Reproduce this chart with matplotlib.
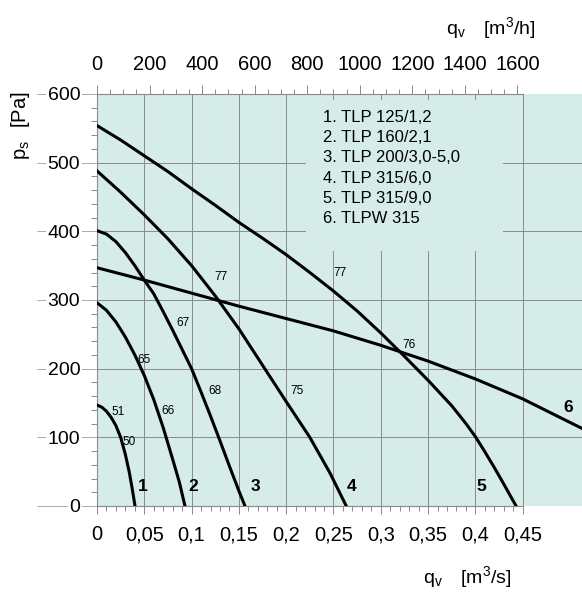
import matplotlib.pyplot as plt
import matplotlib.patches as patches
import numpy as np

plt.rcParams['font.family'] = ['Liberation Sans', 'DejaVu Sans']
plt.rcParams['mathtext.fontset'] = 'custom'
plt.rcParams['mathtext.rm'] = 'Liberation Sans'

# curvas: caudal q [m3/s], presion p [Pa]
q1 = [0.0, 0.005, 0.010, 0.015, 0.020, 0.025, 0.030, 0.034, 0.037, 0.0402]
p1 = [147, 144, 138, 129, 117, 100, 75, 50, 27, 0]

q2 = [0.0, 0.01, 0.02, 0.03, 0.04, 0.05, 0.06, 0.07, 0.08, 0.087, 0.093]
p2 = [296, 285, 268, 246, 220, 190, 155, 114, 68, 35, 0]

q3 = [0.0, 0.01, 0.02, 0.03, 0.04, 0.05, 0.06, 0.07, 0.08, 0.09, 0.10, 0.11, 0.12, 0.13, 0.14, 0.15, 0.1564]
p3 = [401, 396, 385, 369, 350, 329, 309, 283, 256, 228, 200, 166, 131, 95, 58, 22, 0]

q4 = [0.0, 0.025, 0.05, 0.075, 0.10, 0.125, 0.15, 0.175, 0.20, 0.225, 0.2463, 0.2635]
p4 = [488, 457, 424, 389, 350, 306, 258, 205, 152, 100, 48, 0]

q5 = [0.0, 0.025, 0.05, 0.075, 0.10, 0.125, 0.15, 0.175, 0.20, 0.225, 0.25, 0.275,
      0.30, 0.325, 0.35, 0.375, 0.39, 0.40, 0.41, 0.42, 0.43, 0.443]
p5 = [554, 533, 510, 487, 462, 438, 413, 390, 366, 340, 313, 284,
      252, 218, 183, 146, 120, 101, 79, 56, 32, 0]

q6 = [0.0, 0.05, 0.10, 0.15, 0.20, 0.25, 0.30, 0.35, 0.40, 0.45, 0.5127]
p6 = [347, 329, 310, 291, 273, 255, 234, 211, 185, 156, 113]

curvas = [(q1, p1), (q2, p2), (q3, p3), (q4, p4), (q5, p5), (q6, p6)]

leyenda = ['1. TLP 125/1,2', '2. TLP 160/2,1', '3. TLP 200/3,0-5,0',
           '4. TLP 315/6,0', '5. TLP 315/9,0', '6. TLPW 315']

# numeros sobre las curvas
etiquetas = ['51', '50', '65', '66', '67', '68', '77', '75', '77', '76']
etiq_q = [0.0219, 0.0338, 0.050, 0.0747, 0.0912, 0.1247, 0.1307, 0.2117, 0.2569, 0.3302]
etiq_p = [137, 93, 212, 139, 267, 167, 334, 167, 340, 235]

numeros = ['1', '2', '3', '4', '5', '6']
num_q = [0.0479, 0.1018, 0.1677, 0.2692, 0.4067, 0.4982]
num_p = [28, 28, 28, 28, 28, 143]

xticks_s = [0, 0.05, 0.1, 0.15, 0.2, 0.25, 0.3, 0.35, 0.4, 0.45]
xlabels_s = ['0', '0,05', '0,1', '0,15', '0,2', '0,25', '0,3', '0,35', '0,4', '0,45']
xticks_h = [0, 200, 400, 600, 800, 1000, 1200, 1400, 1600]
yticks = [0, 100, 200, 300, 400, 500, 600]

fondo = '#d6ece8'
gris = '#8a8a8a'

fig = plt.figure(figsize=(5.82, 5.95), dpi=100)
ax = fig.add_axes([97/582, 1-506/595, 1-97/582, (506-94)/595])
ax.set_facecolor(fondo)
ax.set_xlim(0, 0.5127)
ax.set_ylim(0, 600)

# rejilla
ax.vlines(xticks_s[1:], 0, 600, color=gris, lw=0.7, zorder=1)
ax.hlines(yticks[1:-1], 0, 0.5127, color=gris, lw=0.7, zorder=1)
ax.add_patch(patches.Rectangle((0.2207, 372), 0.209, 219, facecolor=fondo,
                               edgecolor='none', zorder=1.5))

for q, p in curvas:
    ax.plot(q, p, color='black', lw=2.2, zorder=3, solid_joinstyle='round')

for t, x, y in zip(etiquetas, etiq_q, etiq_p):
    ax.text(x, y, t, fontsize=8.5, ha='center', va='center', zorder=4)
for t, x, y in zip(numeros, num_q, num_p):
    ax.text(x, y, t, fontsize=12.5, fontweight='bold', ha='center', va='center', zorder=4)

for i, t in enumerate(leyenda):
    ax.text(0.2389, 566 - 29.5*i, t, fontsize=12, ha='left', va='center', zorder=4)

# ejes
ax.spines['right'].set_visible(False)
for s in ['left', 'top', 'bottom']:
    ax.spines[s].set_color(gris)
    ax.spines[s].set_linewidth(0.8)
ax.spines['top'].set_bounds(0, 0.45)
ax.spines['bottom'].set_bounds(0, 0.45)

ax.set_xticks(xticks_s)
ax.set_xticklabels(xlabels_s)
ax.set_xticks(np.arange(0, 0.451, 0.01), minor=True)
ax.tick_params(axis='x', which='major', length=6, width=0.7, color=gris, pad=8, labelsize=14.5)
ax.tick_params(axis='x', which='minor', length=3.6, width=0.7, color=gris)

ax.set_yticks(yticks)
ax.set_yticks(np.arange(0, 601, 20), minor=True)
ax.tick_params(axis='y', which='major', length=43, width=0.7, color='#aaaaaa', pad=-31, labelsize=14)
ax.tick_params(axis='y', which='minor', length=4.3, width=0.7, color=gris)
for lbl in ax.get_yticklabels():
    lbl.set_bbox(dict(facecolor='white', edgecolor='none', pad=1))

sec = ax.secondary_xaxis('top', functions=(lambda q: q*3600, lambda v: v/3600))
sec.spines['top'].set_visible(False)
sec.set_xticks(xticks_h)
sec.set_xticks(np.arange(0, 1601, 50), minor=True)
sec.tick_params(axis='x', which='major', length=6.5, width=0.7, color=gris, pad=8, labelsize=14.5)
sec.tick_params(axis='x', which='minor', length=3.6, width=0.7, color=gris)

fig.text(491/582, 1-28/595, r'$\mathregular{q_v\ \ \ [m^3/h]}$', fontsize=14, ha='center', va='center')
fig.text(467/582, 1-577/595, r'$\mathregular{q_v\ \ \ [m^3/s]}$', fontsize=14, ha='center', va='center')
fig.text(21/582, 1-126/595, r'$\mathregular{p_s\ \ [Pa]}$', fontsize=14.5, ha='center', va='center', rotation=90)

fig.savefig('out.png', dpi=100)
